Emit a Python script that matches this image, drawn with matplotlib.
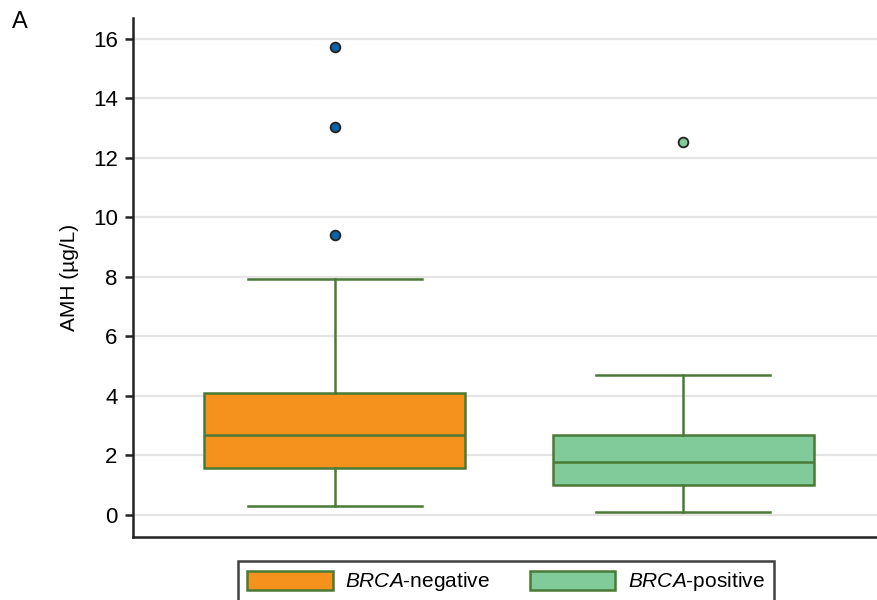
import matplotlib
matplotlib.use("Agg")
import matplotlib.pyplot as plt
from matplotlib.patches import Patch

plt.rcParams['font.family'] = ['Liberation Sans', 'DejaVu Sans']
plt.rcParams['mathtext.fontset'] = 'custom'
plt.rcParams['mathtext.it'] = 'Liberation Sans:italic'
plt.rcParams['mathtext.rm'] = 'Liberation Sans'

# data
groups = ['$\\it{BRCA}$-negative', '$\\it{BRCA}$-positive']
whisker_low = [0.30, 0.10]
q1 = [1.58, 1.01]
median = [2.69, 1.78]
q3 = [4.10, 2.69]
whisker_high = [7.93, 4.71]
outliers = [[15.73, 13.04, 9.41], [12.54]]

box_colors = ['#f5921e', '#81ca9a']
flier_colors = ['#0a62a8', '#81ca9a']
edge = '#4a7a35'

fig = plt.figure(figsize=(8.77, 6.0), dpi=100)
ax = fig.add_axes([133 / 877, 63 / 600, 1 - 133 / 877, (537 - 18) / 600])

stats = []
for i in range(len(groups)):
    stats.append(dict(whislo=whisker_low[i], q1=q1[i], med=median[i], q3=q3[i],
                      whishi=whisker_high[i], fliers=[]))

line_kw = dict(color=edge, linewidth=1.8)
bp = ax.bxp(stats, positions=[0, 1], widths=0.75, capwidths=0.5, patch_artist=True,
            showfliers=False, boxprops=dict(edgecolor=edge, linewidth=1.8),
            medianprops=line_kw, whiskerprops=line_kw, capprops=line_kw, zorder=3)
for patch, c in zip(bp['boxes'], box_colors):
    patch.set_facecolor(c)

# outliers drawn separately so each group gets its own colour
for i, pts in enumerate(outliers):
    ax.plot([i] * len(pts), pts, 'o', markersize=7, markerfacecolor=flier_colors[i],
            markeredgecolor='#222222', markeredgewidth=1.3, zorder=4)

ax.set_xlim(-0.58, 1.557)
ax.set_ylim(-0.74, 16.7)
ax.set_yticks(range(0, 17, 2))
ax.set_xticks([])
ax.yaxis.grid(True, color='#e4e4e4', linewidth=1.6, zorder=0)
ax.set_axisbelow(True)
for s in ['top', 'right']:
    ax.spines[s].set_visible(False)
for s in ['left', 'bottom']:
    ax.spines[s].set_linewidth(1.8)
    ax.spines[s].set_color('#222222')
ax.tick_params(axis='y', labelsize=16, length=6, width=1.8, color='#222222', pad=5)
ax.set_ylabel('AMH (µg/L)', fontsize=15, labelpad=10)

fig.text(12 / 877, 1 - 22 / 600, 'A', fontsize=17, va='center', ha='left')

handles = [Patch(facecolor=c, edgecolor=edge, linewidth=1.8) for c in box_colors]
leg = fig.legend(handles, groups, loc='upper left', bbox_to_anchor=(238 / 877, 1 - 561 / 600),
                 ncol=2, fontsize=15, frameon=True, fancybox=False, handlelength=4.1,
                 handleheight=1.06, handletextpad=0.6, columnspacing=1.9,
                 borderpad=0.45, borderaxespad=0)
leg.get_frame().set_edgecolor('#111111')
leg.get_frame().set_linewidth(1.8)

fig.savefig('out.png', dpi=100)
